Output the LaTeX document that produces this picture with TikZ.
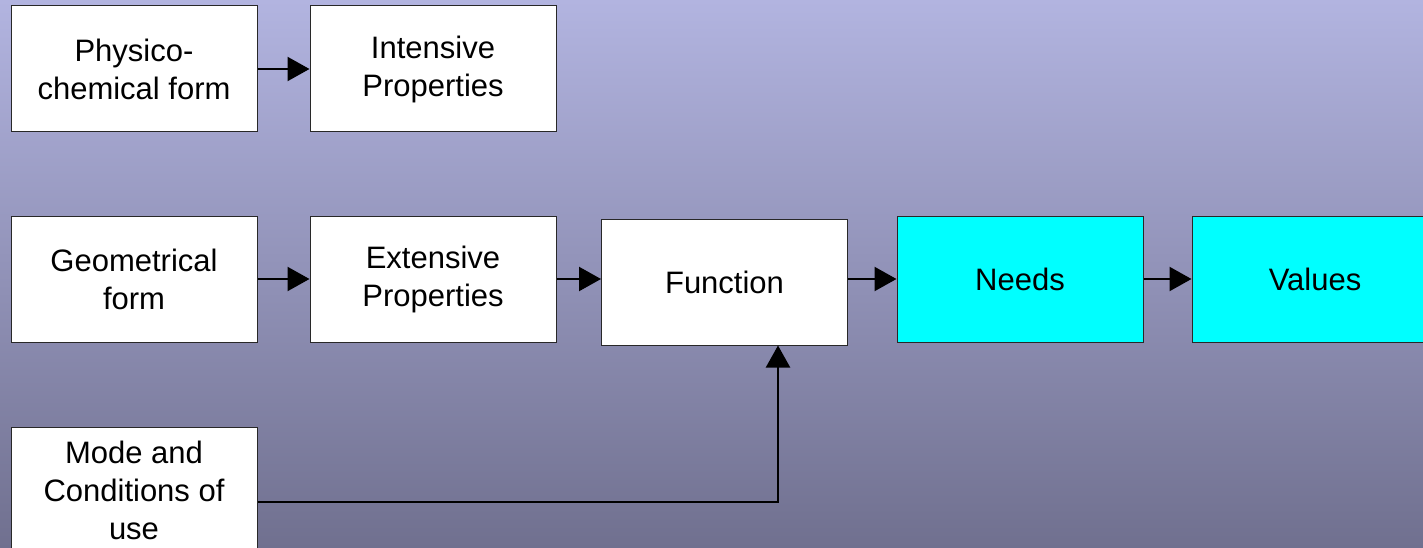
\documentclass[tikz,border=0pt]{standalone}
\usepackage{fontspec}
\setmainfont{Liberation Sans}
\usetikzlibrary{arrows.meta}
\definecolor{bgtop}{RGB}{178,180,224}
\definecolor{bgbottom}{RGB}{112,112,143}
\definecolor{boxline}{RGB}{40,40,40}
\definecolor{aqua}{RGB}{0,255,255}
\begin{document}
\begin{tikzpicture}[x=1pt,y=-1pt,
  stagebox/.style={draw=boxline, line width=1pt, fill=white, minimum width=246pt,
    minimum height=126pt, align=center, inner sep=0pt,
    font=\fontsize{31}{38}\selectfont},
  goalbox/.style={stagebox, fill=aqua},
  arr/.style={line width=2.2pt, -{Triangle[length=22pt,width=24pt]}}]
  % background gradient
  \shade[top color=bgtop, bottom color=bgbottom] (0,0) rectangle (1423,548);
  \useasboundingbox (0,0) rectangle (1423,548);

  % boxes
  \node[stagebox] (phys) at (134,69) {Physico-\\chemical form};
  \node[stagebox] (inten) at (433,69) {Intensive\\Properties};
  \node[stagebox] (geom) at (134,279) {Geometrical\\form};
  \node[stagebox] (exten) at (433,279) {Extensive\\Properties};
  \node[stagebox] (func) at (724.5,282) {Function};
  \node[goalbox] (needs) at (1020,279) {Needs};
  \node[goalbox] (values) at (1315,279) {Values};
  \node[stagebox] (mode) at (134,490) {Mode and\\Conditions of\\use};

  % connectors
  \draw[arr] (phys) -- (inten);
  \draw[arr] (geom) -- (exten);
  \draw[arr] (exten.east) -- (exten.east -| func.west);
  \draw[arr] (func.east |- needs.west) -- (needs.west);
  \draw[arr] (needs) -- (values);
  \draw[arr] ([yshift=-12pt]mode.east) -| ([xshift=53.5pt]func.south);
\end{tikzpicture}
\end{document}
